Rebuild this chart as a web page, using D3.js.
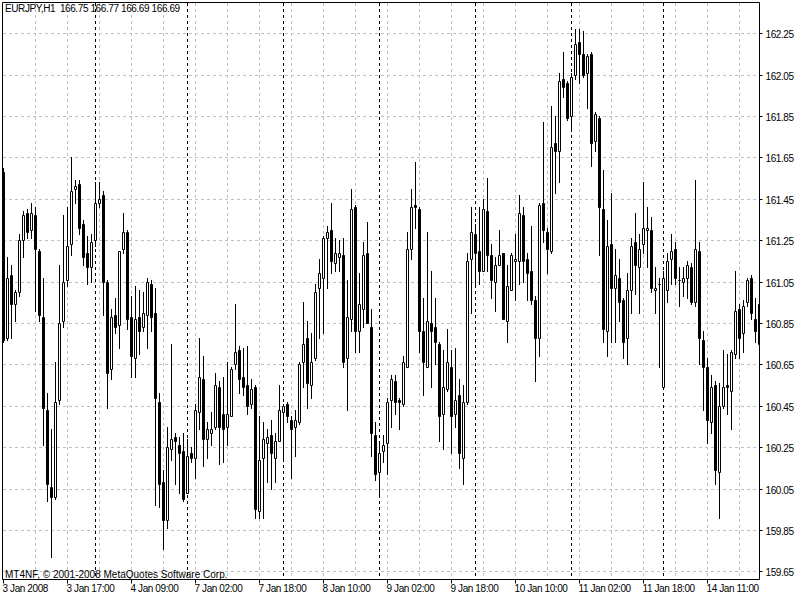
<!DOCTYPE html>
<html><head><meta charset="utf-8">
<script src="https://d3js.org/d3.v7.min.js"></script>
<style>
html,body{margin:0;padding:0;background:#fff;}
svg{display:block;}
text{font-family:"Liberation Sans",Arial,sans-serif;font-size:10px;fill:#000;}
.tight{letter-spacing:-0.4px;}
</style></head><body>
<svg id="chart" width="800" height="600"></svg>
<script>
const symbolTitle = "EURJPY,H1";
const headerQuote = ["166.75", "166.77", "166.69", "166.69"];
const copyright = "MT4NF, \u00A9 2001-2008 MetaQuotes Software Corp.";

const openP = [161.58,160.78,161.08,160.94,161.00,161.25,161.38,161.30,161.37,161.20,
160.88,160.43,160.06,160.01,160.48,160.86,161.06,161.23,161.50,161.52,
161.33,161.19,161.12,161.25,161.43,161.47,161.05,160.63,160.89,160.84,
161.21,161.29,160.88,160.68,160.88,160.83,160.89,161.04,160.90,160.47,
160.08,159.90,160.24,160.30,160.26,160.23,160.03,160.22,160.20,160.42,
160.58,160.29,160.32,160.35,160.54,160.41,160.35,160.40,160.65,160.72,
160.59,160.55,160.46,160.54,159.94,160.20,160.27,160.31,160.20,160.28,
160.42,160.46,160.38,160.35,160.37,160.66,160.78,160.55,160.68,161.02,
161.07,161.26,161.30,161.14,161.17,161.18,160.68,160.87,161.41,160.81,
160.92,161.19,160.83,160.31,160.13,160.23,160.27,160.48,160.57,160.48,
160.46,160.64,161.21,161.42,161.40,160.81,160.64,160.85,160.83,160.75,
160.41,160.53,160.64,160.41,160.50,160.20,160.47,161.16,161.28,161.20,
161.10,161.39,161.18,161.05,161.13,161.19,160.86,161.01,161.15,161.15,
161.37,161.16,161.10,160.96,160.78,161.43,161.29,161.20,161.72,161.68,
162.03,162.01,161.85,162.05,162.21,162.15,162.06,162.15,161.73,161.84,
161.40,160.81,161.23,161.02,161.07,160.96,160.78,161.01,161.24,161.12,
161.23,161.30,161.30,161.01,161.04,160.54,161.01,161.16,161.21,161.06,
161.05,161.07,161.12,160.95,161.20,160.77,160.64,160.37,160.55,160.13,
160.45,160.55,160.52,160.70,160.92,160.80,160.95,161.07,160.87,160.75];

const highP = [161.60,161.17,161.13,161.01,161.28,161.39,161.40,161.43,161.41,161.21,
161.07,160.51,160.34,160.66,161.13,161.37,161.41,161.65,161.54,161.54,
161.35,161.27,161.28,161.53,161.53,161.49,161.06,160.92,160.97,161.20,
161.38,161.30,160.98,161.03,161.01,161.00,161.07,161.06,161.02,160.51,
160.14,160.35,160.75,160.32,160.30,160.32,160.29,160.25,160.46,160.78,
160.69,160.37,160.42,160.61,160.57,160.59,160.66,160.64,160.94,160.74,
160.73,160.74,160.58,160.55,160.40,160.37,160.34,160.38,160.32,160.55,
160.46,160.47,160.40,160.43,160.66,160.95,160.86,160.80,161.04,161.16,
161.27,161.32,161.43,161.26,161.25,161.26,161.06,161.50,161.42,161.09,
161.24,161.34,160.92,160.37,160.28,160.31,160.49,160.60,160.60,160.49,
160.69,161.29,161.50,161.63,161.41,160.97,161.29,161.10,160.97,160.76,
160.72,160.82,160.72,160.73,160.58,160.55,161.19,161.41,161.33,161.41,
161.45,161.55,161.23,161.17,161.30,161.19,161.13,161.19,161.28,161.47,
161.41,161.19,161.32,160.98,161.43,161.82,161.31,161.90,161.85,162.06,
162.16,162.02,162.06,162.27,162.27,162.26,162.15,162.16,161.87,161.85,
161.59,161.35,161.48,161.21,161.16,160.97,161.09,161.26,161.38,161.28,
161.53,161.41,161.36,161.12,161.07,161.10,161.19,161.28,161.24,161.12,
161.12,161.15,161.14,161.54,161.24,160.81,160.68,160.60,160.57,160.56,
160.72,160.70,160.72,161.10,160.94,160.96,161.07,161.08,160.97,161.08];

const lowP = [160.76,160.77,160.78,160.86,160.98,161.17,161.26,161.26,160.91,160.86,
160.26,159.99,159.72,160.00,160.46,160.83,161.03,161.18,161.43,161.28,
161.13,161.04,161.05,161.22,161.41,160.89,160.44,160.58,160.80,160.73,
161.19,160.82,160.59,160.59,160.70,160.81,160.73,160.81,159.97,159.96,
159.76,159.86,160.19,160.07,160.03,159.99,160.03,160.18,160.10,160.34,
160.16,160.20,160.26,160.34,160.17,160.18,160.26,160.40,160.63,160.51,
160.50,160.41,160.44,159.91,159.91,159.91,160.08,160.05,160.08,160.28,
160.19,160.37,160.10,160.21,160.36,160.54,160.44,160.49,160.67,160.78,
160.80,161.02,161.09,161.10,161.10,160.64,160.43,160.81,160.71,160.71,
160.83,160.85,160.21,160.09,160.02,160.18,160.12,160.35,160.41,160.34,
160.45,160.64,161.16,161.31,160.71,160.50,160.64,160.54,160.65,160.28,
160.24,160.52,160.22,160.35,160.15,160.07,160.46,160.90,161.03,161.04,
161.10,161.10,160.97,160.91,161.13,160.87,160.76,161.01,160.96,161.04,
161.05,160.96,160.94,160.57,160.69,161.24,161.09,161.19,161.48,161.53,
161.94,161.83,161.78,162.03,162.01,162.04,161.89,161.61,161.68,161.18,
160.76,160.69,160.76,160.76,160.86,160.68,160.65,160.90,160.99,160.90,
161.19,161.12,161.00,160.90,160.64,160.53,160.95,161.04,161.04,160.93,
160.98,160.97,160.94,160.93,160.65,160.43,160.27,160.32,160.07,159.91,
160.44,160.41,160.34,160.68,160.68,160.71,160.93,160.87,160.76,160.74];

const closeP = [160.77,161.07,160.94,161.00,161.25,161.37,161.29,161.38,161.21,160.89,
160.44,160.07,160.01,160.47,160.85,161.05,161.22,161.49,161.51,161.31,
161.17,161.12,161.24,161.43,161.45,161.05,160.61,160.88,160.83,161.20,
161.29,160.87,160.69,160.87,160.81,160.90,161.05,160.88,160.49,160.07,
159.90,160.25,160.29,160.28,160.22,160.00,160.21,160.20,160.43,160.59,
160.29,160.34,160.34,160.55,160.35,160.34,160.41,160.63,160.71,160.58,
160.54,160.45,160.53,159.95,160.19,160.29,160.30,160.22,160.28,160.43,
160.45,160.40,160.34,160.38,160.65,160.75,160.56,160.66,161.00,161.09,
161.26,161.29,161.15,161.19,161.19,160.66,160.88,161.40,160.81,160.94,
161.18,160.85,160.32,160.12,160.22,160.26,160.47,160.58,160.47,160.47,
160.66,161.21,161.41,161.41,160.81,160.66,160.86,160.81,160.76,160.40,
160.54,160.66,160.40,160.48,160.22,160.47,161.15,161.29,161.19,161.10,
161.40,161.18,161.06,161.13,161.18,160.87,161.03,161.18,161.16,161.38,
161.15,161.09,160.96,160.78,161.42,161.30,161.21,161.70,161.68,162.02,
161.99,161.84,162.04,162.20,162.15,162.05,162.14,161.72,161.86,161.41,
160.82,161.22,161.02,161.08,160.95,160.76,161.01,161.22,161.13,161.21,
161.31,161.31,161.02,161.02,161.04,161.07,161.15,161.20,161.07,161.06,
161.07,161.13,160.95,161.21,160.78,160.64,160.38,160.54,160.14,160.45,
160.54,160.54,160.71,160.91,160.78,160.93,161.06,160.90,160.81,160.94];

const timeTickBars = [0, 16, 32, 48, 64, 80, 96, 112, 128, 144, 160, 176];
const timeTickLabels = ["3 Jan 2008", "3 Jan 17:00", "4 Jan 09:00", "7 Jan 02:00", "7 Jan 18:00",
  "8 Jan 10:00", "9 Jan 02:00", "9 Jan 18:00", "10 Jan 10:00", "11 Jan 02:00", "11 Jan 18:00", "14 Jan 11:00"];
const daySeparatorBars = [23, 46, 70, 94, 118, 142, 165];
const priceTicks = [159.65, 159.85, 160.05, 160.25, 160.45, 160.65, 160.85, 161.05, 161.25, 161.45, 161.65, 161.85, 162.05, 162.25];

const N = openP.length;
const L = 2.5, T = 2.5, R = 759.5, B = 579.5;
const svg = d3.select("#chart");

// x: bar index -> pixel column of the wick
const x = d3.scaleLinear().domain([0, N - 1]).range([3, 3 + 4 * (N - 1)]).interpolate(d3.interpolateRound);
const y = d3.scaleLinear().domain([159.65, 162.25]).range([571.4, 33.3]).interpolate(d3.interpolateRound);

svg.append("rect").attr("width", 800).attr("height", 600).attr("fill", "#fff");

const defs = svg.append("defs");
defs.append("clipPath").attr("id", "plotclip").append("rect")
  .attr("x", 3).attr("y", 3).attr("width", 756).attr("height", 576);

const plot = svg.append("g").attr("clip-path", "url(#plotclip)");

// horizontal grid
plot.selectAll("line.hgrid").data(priceTicks).join("line")
  .attr("class", "hgrid")
  .attr("x1", 3).attr("x2", 759)
  .attr("y1", d => y(d) + 0.5).attr("y2", d => y(d) + 0.5)
  .attr("stroke", "#c0c0c0").attr("stroke-dasharray", "3,3");

// vertical grid every 8 bars
const vgridBars = d3.range(8, N, 8);
plot.selectAll("line.vgrid").data(vgridBars).join("line")
  .attr("class", "vgrid")
  .attr("x1", d => x(d) + 0.5).attr("x2", d => x(d) + 0.5)
  .attr("y1", 3).attr("y2", 579)
  .attr("stroke", "#c0c0c0").attr("stroke-dasharray", "3,3");

// day separators
plot.selectAll("line.sep").data(daySeparatorBars).join("line")
  .attr("class", "sep")
  .attr("x1", d => x(d) + 0.5).attr("x2", d => x(d) + 0.5)
  .attr("y1", 3).attr("y2", 579)
  .attr("stroke", "#000").attr("stroke-dasharray", "3,3");

// candles
const bars = d3.range(N).map(i => ({ i, o: openP[i], h: highP[i], l: lowP[i], c: closeP[i] }));
const cg = plot.append("g");
cg.selectAll("line.wick").data(bars).join("line")
  .attr("class", "wick")
  .attr("x1", d => x(d.i) + 0.5).attr("x2", d => x(d.i) + 0.5)
  .attr("y1", d => y(d.h)).attr("y2", d => y(d.l) + 1)
  .attr("stroke", "#000").attr("stroke-width", 1);
cg.selectAll("path.body").data(bars).join("path")
  .attr("class", "body")
  .attr("d", d => {
    const t = y(Math.max(d.o, d.c)) + 0.5, b = y(Math.min(d.o, d.c)) + 0.5, cx = x(d.i) + 0.5;
    return `M${cx - 1},${t}H${cx + 1}V${b}H${cx - 1}Z`;
  })
  .attr("fill", d => d.c > d.o ? "#fff" : "#000")
  .attr("stroke", "#000").attr("stroke-width", 1);

// frame
svg.append("path")
  .attr("d", `M${L},${B}V${T}H${R}V${B}H${L}`)
  .attr("fill", "none").attr("stroke", "#000");

// price axis
const yAxis = d3.axisRight(y).tickValues(priceTicks).tickFormat(d3.format(".2f")).tickSize(3).tickPadding(3);
const ya = svg.append("g").attr("transform", `translate(${R},0)`).call(yAxis);
ya.select(".domain").remove();
ya.selectAll(".tick line").attr("stroke", "#000");
ya.selectAll(".tick text").attr("dy", null).attr("y", 4.5).attr("class", "tight")
  .attr("fill", "#000").style("font-family", '"Liberation Sans",Arial,sans-serif').style("font-size", "10px");

// time axis
const xAxis = d3.axisBottom(x).tickValues(timeTickBars)
  .tickFormat((d, k) => timeTickLabels[k]).tickSize(4).tickPadding(3);
const xa = svg.append("g").attr("transform", `translate(0,${B})`).call(xAxis);
xa.select(".domain").remove();
xa.selectAll(".tick line").attr("stroke", "#000");
xa.selectAll(".tick text").attr("dy", null).attr("y", 12).attr("x", -1)
  .attr("text-anchor", "start").attr("class", "tight")
  .attr("fill", "#000").style("font-family", '"Liberation Sans",Arial,sans-serif').style("font-size", "10px");

// header
svg.append("text").attr("x", 5).attr("y", 12).attr("class", "tight")
  .style("white-space", "pre")
  .text(symbolTitle + "  " + headerQuote.join(" "));

// copyright
svg.append("text").attr("x", 5).attr("y", 577.5)
  .text(copyright);
</script>
</body></html>
